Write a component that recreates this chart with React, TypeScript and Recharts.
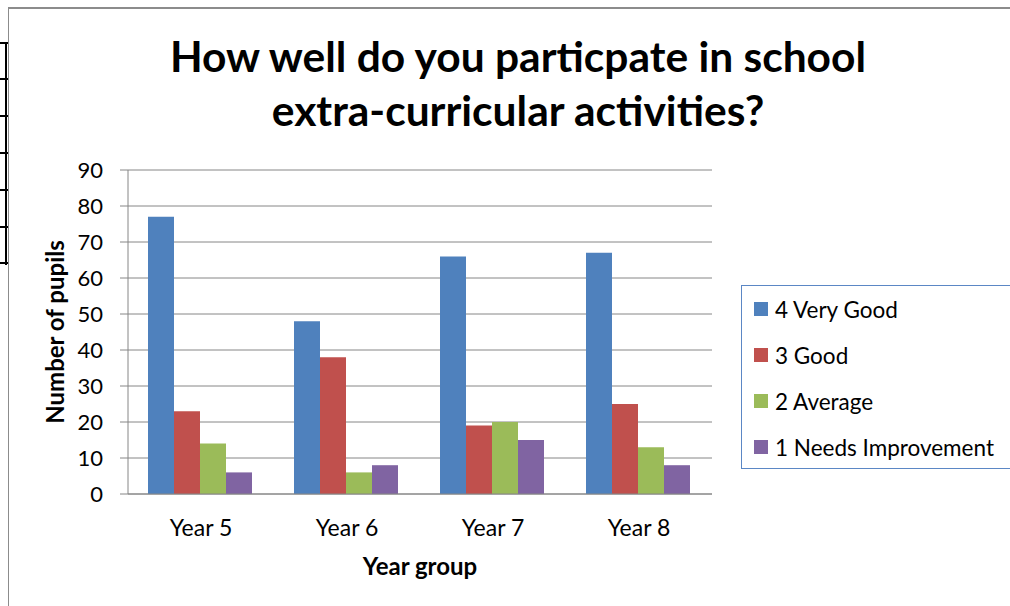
import { BarChart, Bar, XAxis, YAxis, CartesianGrid, Legend } from "recharts"

const years = ["Year 5", "Year 6", "Year 7", "Year 8"]
const veryGood = [77, 48, 66, 67]
const good = [23, 38, 19, 25]
const average = [14, 6, 20, 13]
const needsImprovement = [6, 8, 15, 8]
const yTicks = [0, 10, 20, 30, 40, 50, 60, 70, 80, 90]

const SERIES = [
  { key: "veryGood", name: "4 Very Good", color: "#4F81BD" },
  { key: "good", name: "3 Good", color: "#C0504D" },
  { key: "average", name: "2 Average", color: "#9BBB59" },
  { key: "needs", name: "1 Needs Improvement", color: "#8064A2" },
]

const data = years.map((year, i) => ({
  year,
  veryGood: veryGood[i],
  good: good[i],
  average: average[i],
  needs: needsImprovement[i],
}))

const FONT = "Lato, 'Noto Sans', sans-serif"
const GRID = "#868686"

// left table edge peeking in from the page
const tableRows = [43, 79, 116, 153, 190, 227, 263]

// legend keeps the series order (recharts would sort it by name)
const renderLegend = () => (
  <div
    style={{
      border: "1.5px solid #5B87C5",
      width: 300,
      height: 184,
      boxSizing: "border-box",
      paddingTop: 0,
      paddingLeft: 12,
      background: "#fff",
    }}
  >
    {SERIES.map((s) => (
      <div
        key={s.key}
        style={{ display: "flex", alignItems: "center", height: 46, fontFamily: FONT, fontSize: 22.5, color: "#000" }}
      >
        <span style={{ width: 14, height: 14, background: s.color, marginRight: 7, display: "inline-block" }} />
        {s.name}
      </div>
    ))}
  </div>
)

export default function App() {
  return (
    <div style={{ position: "absolute", left: 0, top: 0, width: 1010, height: 606, overflow: "hidden", background: "#fff" }}>
      {tableRows.map((y) => (
        <div key={y} style={{ position: "absolute", left: 0, top: y - 1, width: 8, height: 2, background: "#000" }} />
      ))}
      <div style={{ position: "absolute", left: 5, top: 42, width: 2, height: 223, background: "#000" }} />
      <div style={{ position: "absolute", left: 8, top: 8, width: 1, height: 598, background: "#8c8c8c" }} />
      <div style={{ position: "absolute", left: 8, top: 7, width: 1002, height: 2, background: "#8c8c8c" }} />

      <div
        style={{
          position: "absolute",
          left: 118,
          top: 29,
          width: 800,
          textAlign: "center",
          fontFamily: FONT,
          fontWeight: 700,
          fontSize: 42.5,
          lineHeight: "54px",
          color: "#000",
        }}
      >
        How well do you particpate in school
        <br />
        extra-curricular activities?
      </div>

      <BarChart
        width={1010}
        height={606}
        data={data}
        margin={{ top: 170, right: 298, bottom: 82, left: 68 }}
        barCategoryGap="13.7%"
        barGap={0}
      >
        <CartesianGrid vertical={false} stroke={GRID} strokeWidth={1} />
        <XAxis
          dataKey="year"
          height={30}
          tickLine={false}
          axisLine={{ stroke: GRID }}
          tick={{ fill: "#000", fontSize: 23, fontFamily: FONT }}
          tickMargin={20}
          label={{
            content: ({ viewBox }: any) => (
              <text
                x={viewBox.x + viewBox.width / 2}
                y={575}
                textAnchor="middle"
                fontFamily={FONT}
                fontWeight={700}
                fontSize={24}
                fill="#000"
              >
                Year group
              </text>
            ),
          }}
        />
        <YAxis
          width={60}
          domain={[0, 90]}
          ticks={yTicks}
          interval={0}
          tickSize={8}
          tickMargin={17}
          axisLine={{ stroke: GRID }}
          tickLine={{ stroke: GRID }}
          tick={{ fill: "#000", fontSize: 22, fontFamily: FONT }}
          label={{
            content: ({ viewBox }: any) => {
              const cy = viewBox.y + viewBox.height / 2
              return (
                <text
                  x={64}
                  y={cy}
                  transform={`rotate(-90 64 ${cy})`}
                  textAnchor="middle"
                  fontFamily={FONT}
                  fontWeight={700}
                  fontSize={24}
                  fill="#000"
                >
                  Number of pupils
                </text>
              )
            },
          }}
        />
        <Legend
          layout="vertical"
          align="center"
          verticalAlign="middle"
          content={renderLegend}
          wrapperStyle={{ position: "absolute", left: 741, top: 285, width: 300 }}
        />
        {SERIES.map((s) => (
          <Bar key={s.key} dataKey={s.key} name={s.name} fill={s.color} isAnimationActive={false} />
        ))}
      </BarChart>
    </div>
  )
}
